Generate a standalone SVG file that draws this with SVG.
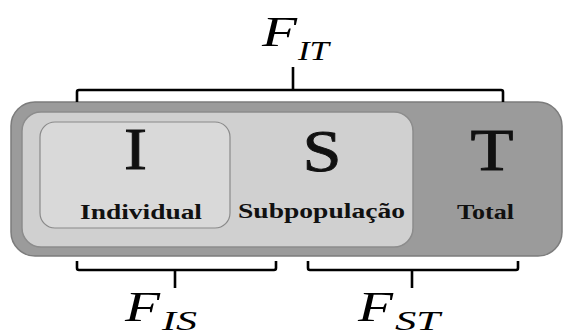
<svg xmlns="http://www.w3.org/2000/svg" width="563" height="336" viewBox="0 0 563 336">
<style>
.big{font-family:"Liberation Serif","Times New Roman",serif;font-size:60px;fill:#111;stroke:#111;stroke-width:0.9;text-anchor:middle}
.lbl{font-family:"Liberation Serif","Times New Roman",serif;font-size:20px;font-weight:bold;fill:#111}
.F{font-family:"Liberation Serif","Times New Roman",serif;font-style:italic;font-size:42px;fill:#000}
.sub{font-family:"Liberation Serif","Times New Roman",serif;font-style:italic;font-size:27px;fill:#000}
.brace{fill:none;stroke:#000;stroke-width:2.6;stroke-linejoin:round}
</style>
<rect width="563" height="336" fill="#fff"/>
<g id="total">
<rect x="11" y="102" width="551" height="154" rx="24" fill="#9b9b9b" stroke="#7c7c7c" stroke-width="1.5"/>
<text class="big" x="492" y="170" textLength="43" lengthAdjust="spacingAndGlyphs">T</text>
<text class="lbl" x="457" y="219" textLength="57" lengthAdjust="spacingAndGlyphs">Total</text>
</g>
<g id="subpopulacao">
<rect x="22" y="112" width="391" height="135" rx="19" fill="#d0d0d0" stroke="#8c8c8c" stroke-width="1.5"/>
<text class="big" x="322" y="171" textLength="39" lengthAdjust="spacingAndGlyphs">S</text>
<text class="lbl" x="238" y="218" textLength="167" lengthAdjust="spacingAndGlyphs">Subpopulação</text>
</g>
<g id="individual">
<rect x="40" y="122" width="190" height="106" rx="15" fill="#d9d9d9" stroke="#8a8a8a" stroke-width="1.2"/>
<text class="big" x="135.5" y="169" textLength="23" lengthAdjust="spacingAndGlyphs">I</text>
<text class="lbl" x="80" y="219" textLength="122" lengthAdjust="spacingAndGlyphs">Individual</text>
</g>
<g id="connectors">
<path class="brace" d="M77,102 V92 Q77,90 79,90 H501 Q503,90 503,92 V102 M293,90 V67"/>
<path class="brace" d="M77,261 V268 Q77,270 79,270 H274 Q276,270 276,268 V261 M175,270 V288"/>
<path class="brace" d="M308,261 V268 Q308,270 310,270 H516 Q518,270 518,268 V261 M412,270 V288"/>
</g>
<g id="labels">
<text class="F" x="262" y="46" textLength="35" lengthAdjust="spacingAndGlyphs">F</text>
<text class="sub" x="298" y="60" textLength="31" lengthAdjust="spacingAndGlyphs">IT</text>
<text class="F" x="125" y="321" textLength="35" lengthAdjust="spacingAndGlyphs">F</text>
<text class="sub" x="162" y="330" textLength="35" lengthAdjust="spacingAndGlyphs">IS</text>
<text class="F" x="358" y="321" textLength="35" lengthAdjust="spacingAndGlyphs">F</text>
<text class="sub" x="395" y="330" textLength="45" lengthAdjust="spacingAndGlyphs">ST</text>
</g>
</svg>
